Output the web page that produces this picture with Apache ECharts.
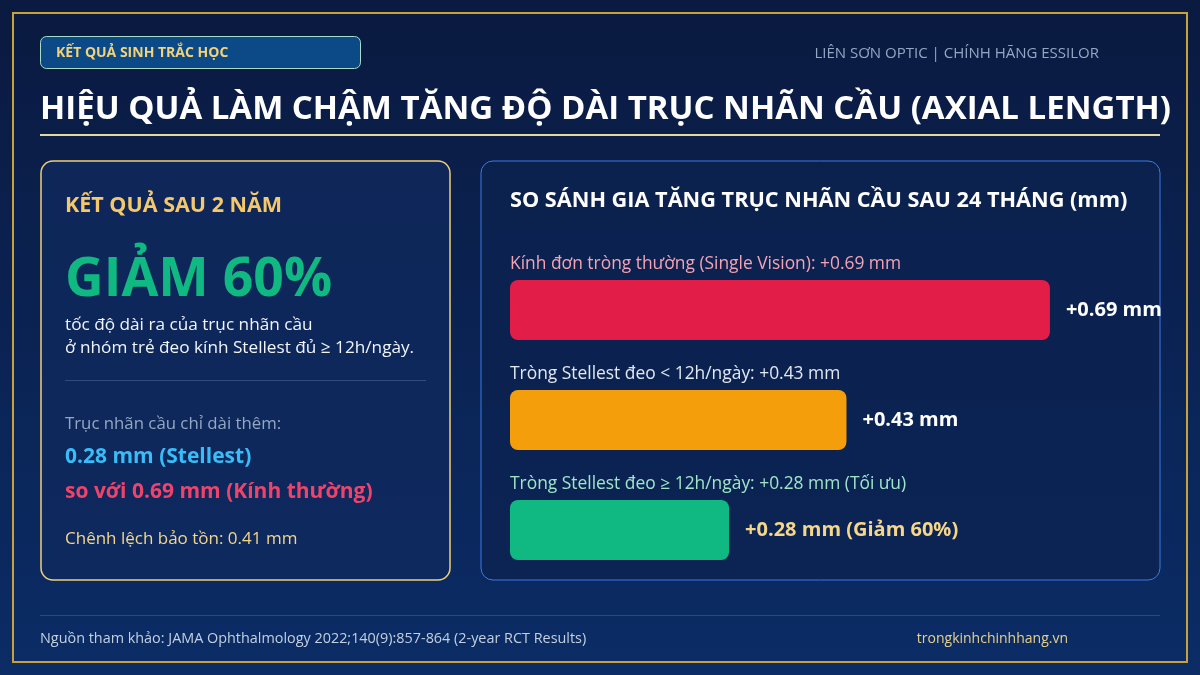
<!DOCTYPE html>
<html>
<head>
<meta charset="utf-8">
<script src="https://cdn.jsdelivr.net/npm/echarts@6/dist/echarts.min.js"></script>
<style>
html,body{margin:0;padding:0;background:#0a1f4c;}
#chart{width:1200px;height:675px;}
</style>
</head>
<body>
<div id="chart"></div>
<script>
// ---- data ----
const categories = ['Kính đơn tròng thường (Single Vision)', 'Tròng Stellest đeo < 12h/ngày', 'Tròng Stellest đeo ≥ 12h/ngày'];
const values = [0.69, 0.43, 0.28];
const categoryLabels = ['Kính đơn tròng thường (Single Vision): +0.69 mm', 'Tròng Stellest đeo < 12h/ngày: +0.43 mm', 'Tròng Stellest đeo ≥ 12h/ngày: +0.28 mm (Tối ưu)'];
const valueLabels = ['+0.69 mm', '+0.43 mm', '+0.28 mm (Giảm 60%)'];
const barColors = ['#e11d48', '#f59e0b', '#10b981'];
const categoryLabelColors = ['#f4a3b4', '#e2e8f0', '#9fe6c8'];
const valueLabelColors = ['#ffffff', '#ffffff', '#f5d68a'];
const axisMax = 0.8;

const FONT = '"Open Sans", "Noto Sans", sans-serif';
const chart = echarts.init(document.getElementById('chart'), null, {renderer: 'canvas'});

function txt(x, y, text, size, color, weight, align, family) {
  return {type: 'text', x: x, y: y, silent: true,
    style: {text: text, fontSize: size, fill: color, fontWeight: weight || 'normal',
      fontFamily: family || FONT, textAlign: align || 'left', textVerticalAlign: 'middle'}};
}

const graphics = [
  // background
  {type: 'rect', shape: {x: 0, y: 0, width: 1200, height: 675}, silent: true, z: -10,
    style: {fill: new echarts.graphic.LinearGradient(0, 0, 0, 1, [{offset: 0, color: '#0a1a40'}, {offset: 1, color: '#0b2c66'}])}},
  // outer frame
  {type: 'rect', shape: {x: 13, y: 13, width: 1174, height: 649}, silent: true, z: -9,
    style: {fill: 'none', stroke: '#c9a13a', lineWidth: 2}},
  // badge
  {type: 'rect', shape: {x: 40.5, y: 36.5, width: 320, height: 32, r: 6}, silent: true,
    style: {fill: '#0b4a86', stroke: '#a8dcc8', lineWidth: 1}},
  txt(56, 53, 'KẾT QUẢ SINH TRẮC HỌC', 14, '#f3d27a', 'bold'),
  txt(1099, 54, 'LIÊN SƠN OPTIC | CHÍNH HÃNG ESSILOR', 15, '#94a8c4', 'normal', 'right'),
  // title
  txt(40, 110, 'HIỆU QUẢ LÀM CHẬM TĂNG ĐỘ DÀI TRỤC NHÃN CẦU (AXIAL LENGTH)', 33, '#ffffff', 'bold'),
  {type: 'rect', shape: {x: 40, y: 134, width: 1120, height: 2}, silent: true, style: {fill: '#e6d6a0'}},
  // left panel
  {type: 'rect', shape: {x: 41, y: 161, width: 409, height: 419, r: 12}, silent: true,
    style: {fill: 'rgba(16,42,94,0.75)', stroke: '#f0cf78', lineWidth: 1.5}},
  txt(65, 206, 'KẾT QUẢ SAU 2 NĂM', 21.5, '#f5c96a', 'bold'),
  txt(65, 281, 'GIẢM 60%', 53.5, '#10b981', 'bold'),
  txt(65, 325, 'tốc độ dài ra của trục nhãn cầu', 17.2, '#f1f5f9'),
  txt(65, 348, 'ở nhóm trẻ đeo kính Stellest đủ ≥ 12h/ngày.', 17.2, '#f1f5f9'),
  {type: 'rect', shape: {x: 65, y: 380, width: 361, height: 1}, silent: true, style: {fill: '#2f4a7c'}},
  txt(65, 424, 'Trục nhãn cầu chỉ dài thêm:', 16.8, '#94a8c4'),
  txt(65, 457, '0.28 mm (Stellest)', 21, '#38bdf8', 'bold'),
  txt(65, 492, 'so với 0.69 mm (Kính thường)', 21, '#f0436a', 'bold'),
  txt(65, 539, 'Chênh lệch bảo tồn: 0.41 mm', 17, '#f5d68a'),
  // right panel
  {type: 'rect', shape: {x: 481, y: 161, width: 679, height: 419, r: 12}, silent: true, z: -5,
    style: {fill: 'rgba(12,34,80,0.7)', stroke: '#3b7ae6', lineWidth: 1}},
  txt(510, 201, 'SO SÁNH GIA TĂNG TRỤC NHÃN CẦU SAU 24 THÁNG (mm)', 21.7, '#ffffff', 'bold'),
  // footer
  {type: 'rect', shape: {x: 40, y: 615, width: 1120, height: 1}, silent: true, style: {fill: '#2b4a7c'}},
  txt(40, 639, 'Nguồn tham khảo: JAMA Ophthalmology 2022;140(9):857-864 (2-year RCT Results)', 14.4, '#c4d0e0'),
  txt(1068, 639, 'trongkinhchinhhang.vn', 14, '#e8d08a', 'normal', 'right')
];

chart.setOption({
  animation: false,
  graphic: graphics,
  grid: {left: 510, top: 255, width: 626, height: 330, containLabel: false},
  xAxis: {type: 'value', min: 0, max: axisMax, show: false},
  yAxis: {type: 'category', data: categories, inverse: true, show: false},
  series: [
    {
      type: 'bar', silent: true, barWidth: 60, barGap: '-100%', z: 1,
      data: values.map((v, i) => ({value: v, itemStyle: {color: 'rgba(0,0,0,0)'},
        label: {color: categoryLabelColors[i]}})),
      label: {show: true, position: [0, -16], align: 'left', verticalAlign: 'middle',
        fontSize: 17.4, fontFamily: FONT,
        formatter: p => categoryLabels[p.dataIndex]}
    },
    {
      type: 'bar', silent: true, barWidth: 60, barGap: '-100%', z: 2,
      data: values.map((v, i) => ({value: v, itemStyle: {color: barColors[i], borderRadius: 8},
        label: {color: valueLabelColors[i]}})),
      label: {show: true, position: 'right', distance: 16, fontSize: 20, fontWeight: 'bold',
        fontFamily: FONT, formatter: p => valueLabels[p.dataIndex]}
    }
  ]
});
</script>
</body>
</html>
